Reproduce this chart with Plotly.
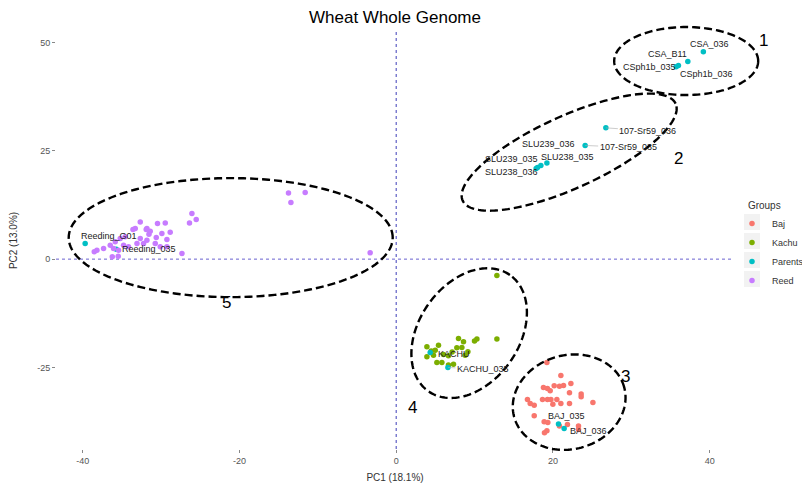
import math
import plotly.graph_objects as go

# ---------------- data (PC1 / PC2 scores) ----------------
groups = ["Baj", "Kachu", "Parents", "Reed"]
group_colors = ["#F8766D", "#7CAE00", "#00BFC4", "#C77CFF"]

baj_pc1 = [19.23, 21.01, 22.29, 18.79, 19.30, 20.16, 20.83, 21.35, 19.65, 22.11,
           23.60, 23.60, 16.75, 18.67, 19.30, 19.74, 20.50, 21.01, 22.11, 25.10,
           17.10, 17.61, 19.99, 17.61, 18.88, 19.35, 20.83, 21.85, 23.26, 23.26,
           19.23, 18.92]
baj_pc2 = [-23.83, -26.83, -28.67, -29.60, -29.83, -29.23, -29.30, -29.14, -30.38, -30.84,
           -31.14, -31.77, -32.37, -32.37, -32.37, -32.37, -32.37, -33.29, -33.29, -33.06,
           -33.29, -33.68, -33.45, -36.15, -37.53, -37.67, -38.52, -38.13, -38.52, -39.28,
           -39.61, -40.07]

kachu_pc1 = [12.85, 12.85, 9.99, 10.30, 8.59, 7.95, 8.38, 7.74, 5.40, 3.92,
             4.98, 6.03, 8.80, 9.15, 6.67, 3.92, 5.19, 5.83, 6.67, 7.31,
             4.76, 4.47, 7.14]
kachu_pc2 = [-3.76, -18.45, -18.91, -18.45, -19.08, -18.29, -20.37, -20.46, -19.84, -20.23,
             -20.99, -21.98, -22.15, -21.38, -22.31, -22.54, -23.83, -23.83, -24.45, -24.22,
             -22.15, -21.22, -21.45]

parent_names = ["CSA_036", "CSA_B11", "CSph1b_035", "CSph1b_036",
                "107-Sr59_036", "107-Sr59_035",
                "SLU239_036", "SLU238_035", "SLU239_035", "SLU238_036",
                "Reeding_G01", "Reeding_035",
                "KACHU", "KACHU_035",
                "BAJ_035", "BAJ_036"]
parent_pc1 = [39.19, 37.21, 35.72, 36.01,
              26.75, 24.11,
              18.46, 19.23, 18.03, 17.86,
              -39.68, -35.71,
              4.34, 6.60,
              20.71, 21.43]
parent_pc2 = [47.82, 45.61, 44.36, 44.68,
              30.29, 26.23,
              21.59, 22.19, 21.13, 20.90,
              3.62, 2.30,
              -21.52, -24.98,
              -38.06, -39.05]

reed_pc1 = [-32.65, -30.45, -29.46, -26.37, -26.06, -25.51, -33.58, -31.89, -31.54, -29.89,
            -30.61, -29.25, -31.80, -32.23, -35.20, -34.57, -35.84, -36.48, -37.33, -38.18,
            -38.52, -36.06, -35.42, -34.78, -34.15, -33.07, -32.65, -30.74, -30.10, -29.25,
            -27.33, -36.22, -35.46, -33.29, -31.38, -13.74, -11.61, -13.43, -3.32, -28.83,
            -31.80]
reed_pc2 = [8.59, 8.23, 8.36, 8.36, 10.53, 9.15, 6.84, 6.84, 5.76, 5.92,
            5.00, 4.54, 4.38, 3.62, 4.77, 5.14, 3.99, 3.23, 2.47, 2.07,
            1.68, 2.47, 2.07, 3.23, 2.83, 3.62, 4.77, 3.62, 2.83, 2.83,
            1.31, 0.53, 0.69, 7.07, 6.45, 15.28, 15.37, 13.06, 1.45, 6.22,
            7.07]

x_ticks = [-40, -20, 0, 20, 40]
x_ticktext = ["-40", "-20", "0", "20", "40"]
y_ticks = [-25, 0, 25, 50]
y_ticktext = ["-25", "0", "25", "50"]

cluster_ids = ["1", "2", "3", "4", "5"]

# ---------------- layout geometry ----------------
W, H = 802, 486
M_L, M_R, M_T, M_B = 56, 68, 32, 37
X_RANGE = [-43.4, 43.1]
Y_RANGE = [-43.8, 52.4]
PLOT_W = W - M_L - M_R
PLOT_H = H - M_T - M_B

FONT = "Liberation Sans, Arial, sans-serif"

# legend placement (pixels from the top-left of the page)
LEG_LEFT_PX = 732
LEG_TOP_PX = 196
LEG_KEY_X_PX = 752
LEG_KEY_Y_PX = [222, 241, 260, 279]
LEG_KEY_SIZE = 16


def to_paper(x, y):
    return ((x - X_RANGE[0]) / (X_RANGE[1] - X_RANGE[0]),
            (y - Y_RANGE[0]) / (Y_RANGE[1] - Y_RANGE[0]))


def px_to_paper(px, py):
    return (px - M_L) / PLOT_W, (H - M_B - py) / PLOT_H


def ellipse_path(cx, cy, a_px, b_px, angle_deg, n=160):
    """Closed SVG path (paper coords) for an ellipse centred on a data point,
    with semi-axes given in screen pixels and rotated on screen."""
    px0, py0 = to_paper(cx, cy)
    th = math.radians(angle_deg)
    pts = []
    for i in range(n):
        t = 2 * math.pi * i / n
        dx = a_px * math.cos(t) * math.cos(th) - b_px * math.sin(t) * math.sin(th)
        dy = a_px * math.cos(t) * math.sin(th) + b_px * math.sin(t) * math.cos(th)
        pts.append((px0 + dx / PLOT_W, py0 + dy / PLOT_H))
    d = "M {:.5f},{:.5f} ".format(*pts[0])
    d += " ".join("L {:.5f},{:.5f}".format(*p) for p in pts[1:])
    return d + " Z"


# cluster outlines: centre (PC1, PC2), semi-axes in px, screen rotation
cluster_outlines = [
    (37.0, 45.7, 72, 34, 0),
    (22.07, 24.68, 117, 36, 24.5),
    (22.07, -32.99, 57, 47, 15),
    (9.31, -17.07, 71, 50, 55),
    (-21.11, 4.96, 162, 59.5, 0),
]
cluster_label_pos = [(46.82, 50.52), (35.98, 23.30), (29.22, -26.99),
                     (2.04, -34.14), (-21.69, -9.92)]

# label placement for parent lines: (dx px, dy px up, leader line?)
label_offsets = {
    "CSA_036": (6, 8, False),
    "CSA_B11": (-20, 7, False),
    "CSph1b_035": (-27, 0, False),
    "CSph1b_036": (28, -9, False),
    "107-Sr59_036": (42, -3, True),
    "107-Sr59_035": (43, -2, True),
    "SLU239_036": (8, 22, False),
    "SLU238_035": (21, 6, False),
    "SLU239_035": (-26, 9, False),
    "SLU238_036": (-25, -3, False),
    "Reeding_G01": (24, 7, False),
    "Reeding_035": (33, 0, False),
    "KACHU": (24, -2, False),
    "KACHU_035": (35, -2, True),
    "BAJ_035": (8, 8, False),
    "BAJ_036": (24, -3, False),
}

fig = go.Figure()

series = [
    (baj_pc1, baj_pc2, None),
    (kachu_pc1, kachu_pc2, None),
    (parent_pc1, parent_pc2, parent_names),
    (reed_pc1, reed_pc2, None),
]
for name, color, (xs, ys, txt) in zip(groups, group_colors, series):
    fig.add_trace(go.Scatter(
        x=xs, y=ys, mode="markers", name=name, text=txt,
        marker=dict(color=color, size=5.5, line=dict(width=0)),
        cliponaxis=False,
    ))

# reference lines at the origin
fig.add_shape(type="line", xref="x", yref="paper", x0=0, x1=0, y0=0, y1=1,
              line=dict(color="#3D3DB8", width=1, dash="3px,3px"), layer="below")
fig.add_shape(type="line", xref="paper", yref="y", x0=0, x1=1, y0=0, y1=0,
              line=dict(color="#6A62D0", width=1, dash="3px,3px"), layer="below")

# cluster outlines and numbers
for (cx, cy, a, b, ang) in cluster_outlines:
    fig.add_shape(type="path", xref="paper", yref="paper",
                  path=ellipse_path(cx, cy, a, b, ang),
                  line=dict(color="black", width=2.4, dash="8px,4px"))
for cid, (lx, ly) in zip(cluster_ids, cluster_label_pos):
    px_, py_ = to_paper(lx, ly)
    fig.add_annotation(x=px_, y=py_, xref="paper", yref="paper", text=cid,
                       xanchor="center", yanchor="middle",
                       showarrow=False, font=dict(size=17, color="black", family=FONT))

# labels for parental lines
for nm, x, y in zip(parent_names, parent_pc1, parent_pc2):
    dx, dy, leader = label_offsets[nm]
    if leader:
        fig.add_annotation(x=x, y=y, xref="x", yref="y", text=nm,
                           showarrow=True, ax=dx, ay=-dy, arrowhead=0,
                           arrowwidth=0.6, arrowcolor="#AAAAAA", standoff=0,
                           font=dict(size=9, color="#222222", family=FONT))
    else:
        fig.add_annotation(x=x, y=y, xref="x", yref="y", text=nm,
                           showarrow=False, xshift=dx, yshift=dy,
                           font=dict(size=9, color="#222222", family=FONT))

# grey key backgrounds behind the legend symbols
for ky in LEG_KEY_Y_PX:
    x0, y0 = px_to_paper(LEG_KEY_X_PX - LEG_KEY_SIZE / 2, ky + LEG_KEY_SIZE / 2)
    x1, y1 = px_to_paper(LEG_KEY_X_PX + LEG_KEY_SIZE / 2, ky - LEG_KEY_SIZE / 2)
    fig.add_shape(type="rect", xref="paper", yref="paper", x0=x0, x1=x1, y0=y0, y1=y1,
                  fillcolor="#F2F2F2", line=dict(width=0), layer="below")

axis_common = dict(showgrid=False, zeroline=False, showline=False,
                   ticks="outside", ticklen=3, tickwidth=1, tickcolor="#888888",
                   tickfont=dict(size=9, color="#555555", family=FONT),
                   automargin=False)

leg_x, leg_y = px_to_paper(LEG_LEFT_PX, LEG_TOP_PX)

fig.update_layout(
    width=W, height=H,
    margin=dict(l=M_L, r=M_R, t=M_T, b=M_B, autoexpand=False),
    paper_bgcolor="white", plot_bgcolor="white",
    font=dict(family=FONT),
    title=dict(text="Wheat Whole Genome", x=0.5, xref="paper", xanchor="center",
               y=1 - 17 / H, yanchor="middle",
               font=dict(size=17, color="black", family=FONT)),
    xaxis=dict(range=X_RANGE, tickvals=x_ticks, ticktext=x_ticktext,
               title=dict(text="PC1 (18.1%)", standoff=9,
                          font=dict(size=10, color="#333333", family=FONT)),
               **axis_common),
    yaxis=dict(range=Y_RANGE, tickvals=y_ticks, ticktext=y_ticktext,
               title=dict(text="PC2 (13.0%)", standoff=17,
                          font=dict(size=10, color="#333333", family=FONT)),
               **axis_common),
    legend=dict(title=dict(text="&nbsp;&nbsp;&nbsp;&nbsp;&nbsp;Groups",
                           font=dict(size=10, color="#333333")),
                x=leg_x, xanchor="left", y=leg_y, yanchor="top",
                font=dict(size=9, color="#333333", family=FONT),
                itemsizing="trace", bgcolor="rgba(0,0,0,0)",
                tracegroupgap=0),
    showlegend=True,
)

fig.write_html("out.html")
